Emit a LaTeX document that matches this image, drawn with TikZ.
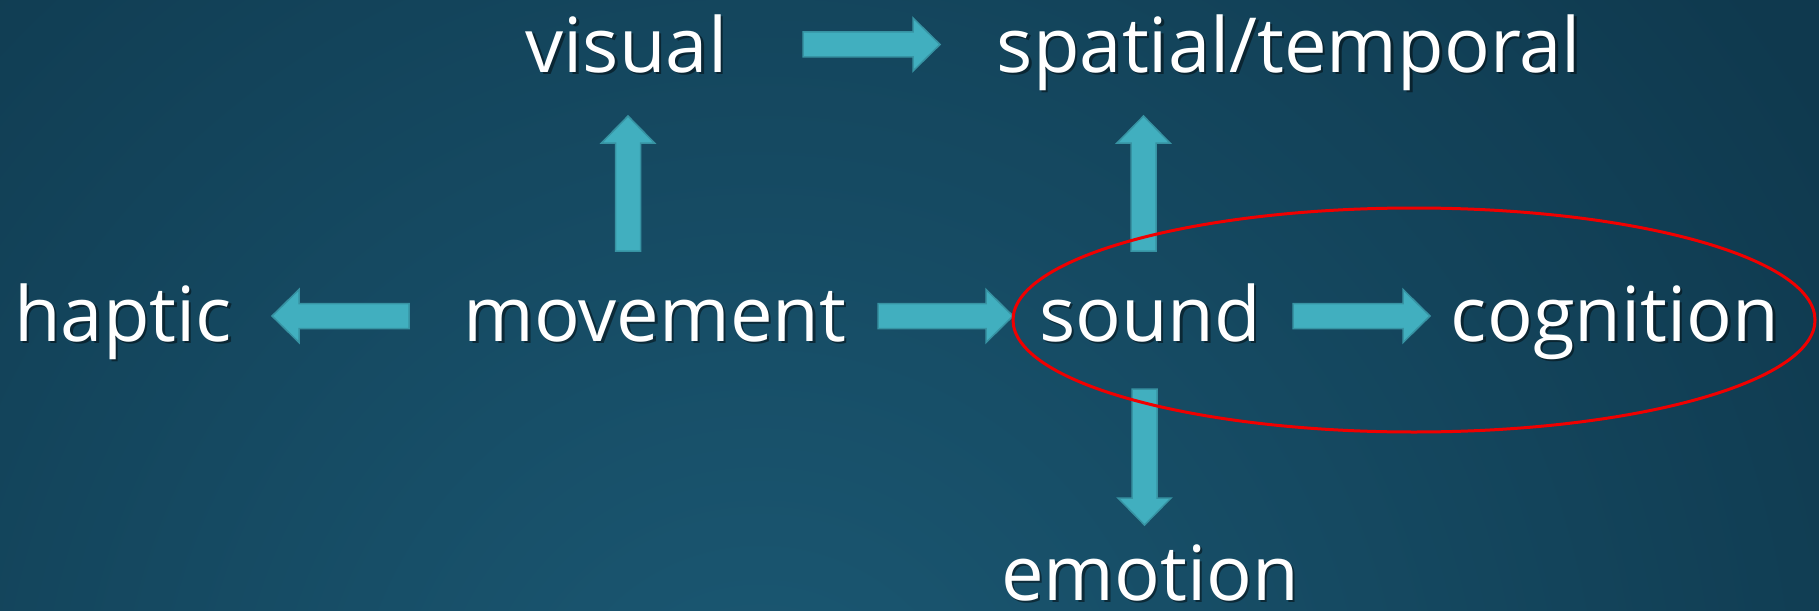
\documentclass[tikz,border=0pt]{standalone}
\usepackage{fontspec}
\setmainfont{Open Sans}
\usetikzlibrary{calc}

\definecolor{bgdark}{HTML}{0F394E}
\definecolor{bglight}{HTML}{1B5974}
\definecolor{arrowfill}{HTML}{41AFBF}
\definecolor{arrowedge}{HTML}{3793A3}
\definecolor{ringred}{HTML}{F00000}

\tikzset{
  word/.style={text=white, font=\fontsize{76}{88}\selectfont, inner sep=0pt, anchor=base},
  wordshadow/.style={text=black, opacity=0.45, font=\fontsize{76}{88}\selectfont, inner sep=0pt, anchor=base},
  blockarrow/.style={fill=arrowfill, draw=arrowedge, line width=1.5pt, line join=miter},
}

% filled block arrow from one named point to another
\newcommand{\blockarrow}[2]{%
  \filldraw[blockarrow] let \p1=(#1), \p2=(#2),
    \n1={atan2(\y2-\y1,\x2-\x1)}, \n2={veclen(\x2-\x1,\y2-\y1)} in
    {[shift={(\p1)}, rotate=\n1]
      (0pt,-12.5pt) -- ({\n2-27pt},-12.5pt) -- ({\n2-27pt},-26.5pt)
      -- ({\n2},0pt) -- ({\n2-27pt},26.5pt) -- ({\n2-27pt},12.5pt)
      -- (0pt,12.5pt) -- cycle};
}

% word with a soft drop shadow
\newcommand{\word}[3]{%
  \node[wordshadow] at ($(#2)+(2.5pt,-2.5pt)$) {#3};
  \node[word] (#1) at (#2) {#3};
}

\begin{document}
\begin{tikzpicture}[x=1pt, y=-1pt]
  % background
  \useasboundingbox (0,0) rectangle (1819,610);
  \begin{scope}
    \clip (0,0) rectangle (1819,610);
    \fill[bgdark] (0,0) rectangle (1819,610);
    \shade[inner color=bglight, outer color=bgdark] (760,760) circle (1250pt);
  \end{scope}

  % text anchors (baselines)
  \coordinate (pvisual)   at (626.5,72);
  \coordinate (pspatial)  at (1289,72);
  \coordinate (phaptic)   at (123,341);
  \coordinate (pmovement) at (655,341);
  \coordinate (psound)    at (1150,341);
  \coordinate (pcognition) at (1615,341);
  \coordinate (pemotion)  at (1150,600);

  % arrow end points
  \coordinate (vsA) at (803,44.5);   \coordinate (vsB) at (940,44.5);
  \coordinate (mvA) at (628,251);    \coordinate (mvB) at (628,116);
  \coordinate (ssA) at (1143.5,251); \coordinate (ssB) at (1143.5,116);
  \coordinate (mhA) at (409,316);    \coordinate (mhB) at (272,316);
  \coordinate (msA) at (878,316);    \coordinate (msB) at (1013,316);
  \coordinate (scA) at (1293,316);   \coordinate (scB) at (1430,316);
  \coordinate (seA) at (1144.5,389); \coordinate (seB) at (1144.5,525);

  % arrows
  \blockarrow{vsA}{vsB}
  \blockarrow{mvA}{mvB}
  \blockarrow{ssA}{ssB}
  \blockarrow{mhA}{mhB}
  \blockarrow{msA}{msB}
  \blockarrow{scA}{scB}
  \blockarrow{seA}{seB}

  % words
  \word{visual}{pvisual}{visual}
  \word{spatial}{pspatial}{spatial/temporal}
  \word{haptic}{phaptic}{haptic}
  \word{movement}{pmovement}{movement}
  \word{sound}{psound}{sound}
  \word{cognition}{pcognition}{cognition}
  \word{emotion}{pemotion}{emotion}

  % highlight ring around sound and cognition
  \coordinate (ring) at (1414,320);
  \draw[ringred, line width=3pt] (ring) ellipse [x radius=401pt, y radius=112pt];
\end{tikzpicture}
\end{document}
